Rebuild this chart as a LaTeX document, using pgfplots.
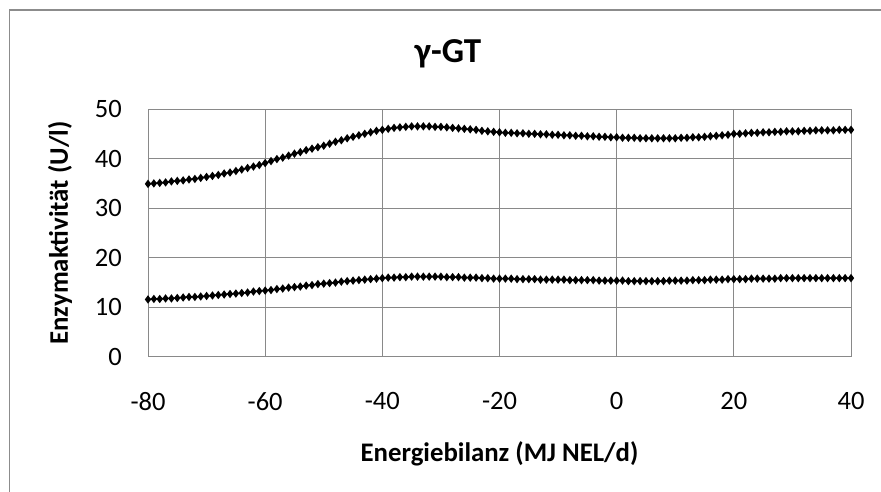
\documentclass[border=0pt]{standalone}
\usepackage{pgfplots}
\pgfplotsset{compat=1.18}
\usepackage{fontspec}
\setmainfont{Carlito}
\definecolor{gridgray}{HTML}{898989}
\definecolor{framegray}{HTML}{8C8C8C}
\begin{document}
\begin{tikzpicture}[x=1pt,y=1pt]
\path[use as bounding box] (0,0) rectangle (881,492);
\draw[framegray, line width=1.6pt] (9.5,-2) -- (9.5,482) -- (883,482);
\begin{axis}[
  at={(148pt,135pt)}, anchor=south west,
  scale only axis, width=703pt, height=248pt,
  xmin=-80, xmax=40, ymin=0, ymax=50,
  xtick={-80,-60,...,40}, ytick={0,10,...,50},
  grid=major,
  major grid style={gridgray, line width=1pt},
  axis line style={gridgray, line width=1pt},
  tick style={draw=none},
  /pgf/number format/assume math mode=true,
  ticklabel style={font=\fontsize{26.5}{30}\selectfont, inner sep=0pt},
  xticklabel style={yshift=-35pt},
  yticklabel style={xshift=-26pt},
  every axis y label/.style={at={(axis description cs:-0.1252,0.5)}, rotate=90, anchor=center},
  every axis x label/.style={at={(axis description cs:0.5,-0.4234)}, anchor=base},
  every axis title/.style={at={(axis description cs:0.4267,1.1855)}, anchor=base},
  xlabel={\fontsize{26.8}{30}\selectfont\bfseries Energiebilanz (MJ NEL/d)},
  ylabel={\fontsize{26.8}{30}\selectfont\bfseries Enzymaktivität (U/l)},
  title={\fontsize{35}{40}\selectfont\bfseries γ-GT},
  clip=false,
]
\addplot[black, line width=1.5pt, mark=diamond*, mark size=3pt] coordinates {
(-80,34.9)(-79,35.0)(-78,35.1)(-77,35.2)(-76,35.4)(-75,35.5)(-74,35.6)(-73,35.8)(-72,35.9)(-71,36.1)
(-70,36.3)(-69,36.5)(-68,36.7)(-67,37.0)(-66,37.2)(-65,37.5)(-64,37.8)(-63,38.1)(-62,38.4)(-61,38.7)
(-60,39.1)(-59,39.5)(-58,39.9)(-57,40.2)(-56,40.6)(-55,41.0)(-54,41.3)(-53,41.7)(-52,42.0)(-51,42.3)
(-50,42.6)(-49,43.0)(-48,43.4)(-47,43.7)(-46,44.1)(-45,44.4)(-44,44.7)(-43,45.0)(-42,45.3)(-41,45.6)
(-40,45.8)(-39,46.0)(-38,46.2)(-37,46.3)(-36,46.4)(-35,46.5)(-34,46.5)(-33,46.5)(-32,46.5)(-31,46.4)
(-30,46.4)(-29,46.3)(-28,46.2)(-27,46.1)(-26,46.0)(-25,45.9)(-24,45.8)(-23,45.6)(-22,45.5)(-21,45.4)
(-20,45.3)(-19,45.2)(-18,45.2)(-17,45.1)(-16,45.1)(-15,45.0)(-14,45.0)(-13,44.9)(-12,44.9)(-11,44.8)
(-10,44.8)(-9,44.7)(-8,44.7)(-7,44.6)(-6,44.6)(-5,44.5)(-4,44.5)(-3,44.4)(-2,44.4)(-1,44.3)
(0,44.3)(1,44.2)(2,44.2)(3,44.2)(4,44.1)(5,44.1)(6,44.1)(7,44.1)(8,44.1)(9,44.1)
(10,44.1)(11,44.2)(12,44.2)(13,44.3)(14,44.3)(15,44.4)(16,44.5)(17,44.6)(18,44.7)(19,44.8)
(20,45.0)(21,45.0)(22,45.1)(23,45.2)(24,45.2)(25,45.3)(26,45.3)(27,45.4)(28,45.4)(29,45.5)
(30,45.5)(31,45.5)(32,45.6)(33,45.6)(34,45.7)(35,45.7)(36,45.7)(37,45.7)(38,45.8)(39,45.8)(40,45.8)
};
\addplot[black, line width=1.5pt, mark=diamond*, mark size=3pt] coordinates {
(-80,11.6)(-79,11.7)(-78,11.7)(-77,11.8)(-76,11.8)(-75,11.9)(-74,12.0)(-73,12.1)(-72,12.1)(-71,12.2)
(-70,12.3)(-69,12.4)(-68,12.5)(-67,12.6)(-66,12.7)(-65,12.8)(-64,12.9)(-63,13.0)(-62,13.2)(-61,13.3)
(-60,13.4)(-59,13.5)(-58,13.7)(-57,13.8)(-56,14.0)(-55,14.1)(-54,14.2)(-53,14.4)(-52,14.5)(-51,14.7)
(-50,14.8)(-49,14.9)(-48,15.0)(-47,15.2)(-46,15.3)(-45,15.4)(-44,15.5)(-43,15.6)(-42,15.7)(-41,15.8)
(-40,15.9)(-39,16.0)(-38,16.0)(-37,16.1)(-36,16.1)(-35,16.2)(-34,16.2)(-33,16.2)(-32,16.2)(-31,16.2)
(-30,16.2)(-29,16.1)(-28,16.1)(-27,16.1)(-26,16.0)(-25,16.0)(-24,16.0)(-23,15.9)(-22,15.9)(-21,15.8)
(-20,15.8)(-19,15.8)(-18,15.8)(-17,15.7)(-16,15.7)(-15,15.7)(-14,15.7)(-13,15.6)(-12,15.6)(-11,15.6)
(-10,15.6)(-9,15.6)(-8,15.5)(-7,15.5)(-6,15.5)(-5,15.5)(-4,15.5)(-3,15.4)(-2,15.4)(-1,15.4)
(0,15.4)(1,15.4)(2,15.3)(3,15.3)(4,15.3)(5,15.3)(6,15.3)(7,15.3)(8,15.3)(9,15.4)
(10,15.4)(11,15.4)(12,15.4)(13,15.5)(14,15.5)(15,15.5)(16,15.6)(17,15.6)(18,15.6)(19,15.7)
(20,15.7)(21,15.7)(22,15.7)(23,15.8)(24,15.8)(25,15.8)(26,15.8)(27,15.8)(28,15.9)(29,15.9)
(30,15.9)(31,15.9)(32,15.9)(33,15.9)(34,15.9)(35,15.9)(36,15.9)(37,15.9)(38,15.9)(39,15.9)(40,15.9)
};
\end{axis}
\end{tikzpicture}
\end{document}
